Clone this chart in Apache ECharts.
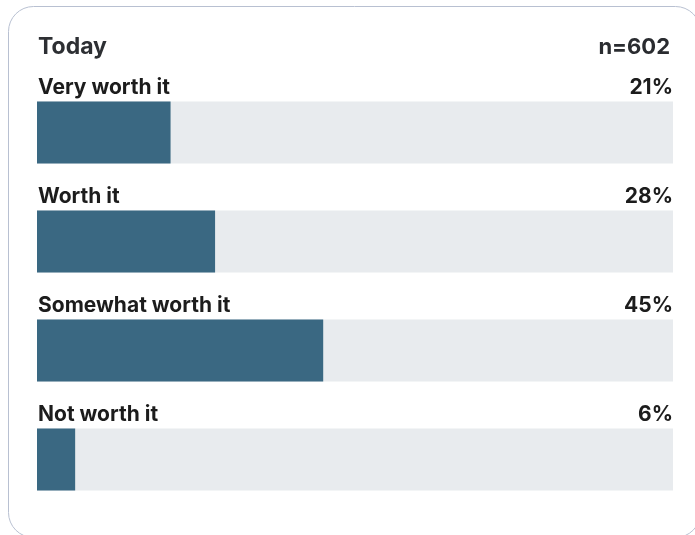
<!DOCTYPE html>
<html>
<head>
<meta charset="utf-8">
<script src="https://cdn.jsdelivr.net/npm/echarts@6/dist/echarts.min.js"></script>
<style>
  html, body { margin: 0; padding: 0; background: #ffffff; }
  #chart { width: 695px; height: 535px; }
</style>
</head>
<body>
<div id="chart"></div>
<script>
// Survey responses for "Today"
const categories = ['Very worth it', 'Worth it', 'Somewhat worth it', 'Not worth it'];
const shares = [21, 28, 45, 6];
const fullScale = [100, 100, 100, 100];
const sampleLabel = 'n=602';
const panelTitle = 'Today';

const FONT = 'Inter, "Noto Sans", sans-serif';
const chart = echarts.init(document.getElementById('chart'), null, { renderer: 'canvas' });

chart.setOption({
  animation: false,
  grid: { left: 37, right: 22, top: 78, bottom: 21, containLabel: false },
  xAxis: { type: 'value', min: 0, max: 100, show: false },
  yAxis: {
    type: 'category', data: categories, inverse: true,
    show: false
  },
  graphic: [
    {
      type: 'rect', silent: true, z: -10,
      shape: { x: 8.5, y: 6.5, width: 692, height: 531, r: 25 },
      style: { fill: '#ffffff', stroke: '#b8c0d1', lineWidth: 1 }
    },
    {
      type: 'text', left: 38, top: 36,
      style: { text: panelTitle, fontFamily: FONT, fontSize: 23, fontWeight: 700, fill: '#2d2f33' }
    },
    {
      type: 'text', right: 25, top: 36,
      style: { text: sampleLabel, fontFamily: FONT, fontSize: 22, fontWeight: 700, fill: '#2a2c30', align: 'right' }
    }
  ],
  series: [
    {
      type: 'bar', data: fullScale, barWidth: 62, barGap: '-100%', silent: true,
      itemStyle: { color: '#e8ebee' },
      label: {
        show: true, position: ['100%', -14],
        align: 'right', verticalAlign: 'middle',
        formatter: (p) => shares[p.dataIndex] + '%',
        fontFamily: FONT, fontSize: 21, fontWeight: 700, color: '#1c1c1c'
      },
      z: 1
    },
    {
      type: 'bar', data: shares, barWidth: 62, barGap: '-100%', silent: true,
      itemStyle: { color: '#3a6882' },
      label: {
        show: true, position: [1, -14],
        align: 'left', verticalAlign: 'middle',
        formatter: (p) => categories[p.dataIndex],
        fontFamily: FONT, fontSize: 21, fontWeight: 700, color: '#1c1c1c'
      },
      z: 2
    }
  ]
});
</script>
</body>
</html>
